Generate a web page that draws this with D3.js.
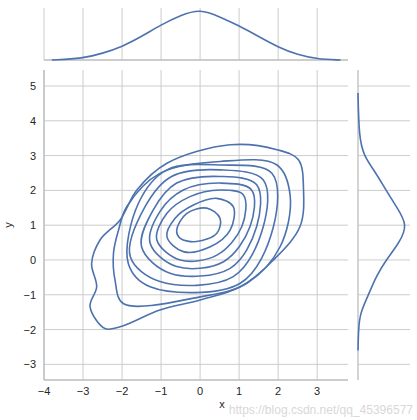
<!DOCTYPE html>
<html><head><meta charset="utf-8">
<script src="https://cdn.jsdelivr.net/npm/d3@7"></script>
<style>body{margin:0;background:#fff}svg{font-family:"Liberation Sans",Arial,sans-serif}</style>
</head><body><svg width="417" height="420"></svg>
<script>
// marginal densities (relative heights)
const xDensX = [-3.8,-3,-2.5,-2,-1.5,-1,-0.5,0,0.5,1,1.5,2,2.5,3,3.6];
const xDensV = [0,0.03,0.13,0.26,0.46,0.69,0.88,1,0.85,0.67,0.46,0.25,0.1,0.02,0];
const yDensY = [4.8,3.55,3,2.5,2,1.53,1,0.48,0,-0.48,-1,-1.53,-2,-2.6];
const yDensV = [0,0.02,0.11,0.36,0.56,0.77,1,0.82,0.56,0.36,0.21,0.04,0.01,0];

// contour rings, [x,y] in data units, outermost first
const outer = [[0.77,3.31],[1.97,3.17],[2.52,2.88],[2.65,2.01],[2.56,0.96],[1.88,0],[1.03,-0.77],[0,-1.15],[-1.03,-1.44],[-2.05,-1.92],[-2.44,-1.97],[-2.82,-1.34],[-2.65,-0.77],[-2.78,-0.1],[-2.56,0.58],[-2.05,1.15],[-1.62,2.01],[-0.85,2.78]];
const ring8 = [[-2.22,0.19],[-2.09,0.86],[-1.88,1.53],[-1.03,2.49],[0.51,2.83],[1.97,2.73],[2.31,1.82],[2.05,0.38],[1.2,-0.67],[0,-1.06],[-1.97,-1.25],[-2.18,-0.58]];
const ring7 = [[-1.84,-0.1],[-1.58,1.63],[-0.85,2.59],[0.51,2.73],[1.84,2.49],[1.88,0.96],[1.03,-0.67],[-1.28,-0.77]];
const ring6 = [[-1.79,0.1],[-1.41,1.53],[-0.73,2.4],[0.51,2.59],[1.62,2.3],[1.62,0.96],[0.85,-0.48],[-1.03,-0.62]];
const ring5 = [[-1.5,0.38],[-1.2,1.44],[-0.6,2.21],[0.51,2.4],[1.45,2.16],[1.45,0.96],[0.77,-0.24],[-0.77,-0.38]];
const ring4 = [[-1.28,0.48],[-1.03,1.39],[-0.43,2.01],[0.51,2.21],[1.32,2.01],[1.28,0.96],[0.6,-0.05],[-0.6,-0.19]];
const ring3 = [[-1.11,0.58],[-0.85,1.34],[-0.26,1.82],[0.51,2.01],[1.11,1.87],[1.07,0.96],[0.43,0.14],[-0.51,0]];
const ring2 = [[-0.85,0.67],[-0.64,1.2],[-0.17,1.58],[0.43,1.77],[0.85,1.53],[0.77,0.86],[0.26,0.38],[-0.43,0.24]];
const ring1 = [[-0.6,0.86],[-0.34,1.34],[0.17,1.49],[0.51,1.2],[0.43,0.77],[-0.09,0.53],[-0.51,0.62]];
const rings = [outer, ring8, ring7, ring6, ring5, ring4, ring3, ring2, ring1];

const xTicks = [-4,-3,-2,-1,0,1,2,3];
const yTicks = [-3,-2,-1,0,1,2,3,4,5];

const blue = "#4c72b0", grid = "#cccccc", txt = "#262626";
const main = {left: 44, right: 348, top: 70, bottom: 380};
const topM = {top: 8, bottom: 60};
const rightM = {left: 358, right: 410};

const x = d3.scaleLinear().domain([-4, 3.79]).range([main.left, main.right]);
const y = d3.scaleLinear().domain([-3.45, 5.46]).range([main.bottom, main.top]);
const hTop = d3.scaleLinear().domain([0, 1]).range([topM.bottom, 9]);
const wRight = d3.scaleLinear().domain([0, 1]).range([rightM.left, 408]);

const svg = d3.select("svg");

// grids
const g = svg.append("g").attr("stroke", grid).attr("stroke-width", 1);
xTicks.forEach(t => {
  g.append("line").attr("x1", x(t)).attr("x2", x(t)).attr("y1", main.top).attr("y2", main.bottom);
  g.append("line").attr("x1", x(t)).attr("x2", x(t)).attr("y1", topM.top).attr("y2", topM.bottom);
});
yTicks.forEach(t => {
  g.append("line").attr("x1", main.left).attr("x2", main.right).attr("y1", y(t)).attr("y2", y(t));
  g.append("line").attr("x1", rightM.left).attr("x2", rightM.right).attr("y1", y(t)).attr("y2", y(t));
});

// spines
const sp = svg.append("g").attr("stroke", "#bdbdbd").attr("stroke-width", 1.3);
sp.append("line").attr("x1", main.left).attr("x2", main.left).attr("y1", main.top).attr("y2", main.bottom);
sp.append("line").attr("x1", main.left).attr("x2", main.right).attr("y1", main.bottom).attr("y2", main.bottom);
sp.append("line").attr("x1", main.left).attr("x2", main.right).attr("y1", topM.bottom).attr("y2", topM.bottom);
sp.append("line").attr("x1", rightM.left).attr("x2", rightM.left).attr("y1", main.top).attr("y2", main.bottom);

// tick labels
svg.append("g").selectAll("text").data(xTicks).join("text")
  .attr("x", d => x(d)).attr("y", main.bottom + 15).attr("text-anchor", "middle")
  .attr("font-size", 11).attr("fill", txt).text(d => d < 0 ? "\u2212" + (-d) : d);
svg.append("g").selectAll("text").data(yTicks).join("text")
  .attr("x", main.left - 8).attr("y", d => y(d) + 4).attr("text-anchor", "end")
  .attr("font-size", 11).attr("fill", txt).text(d => d < 0 ? "\u2212" + (-d) : d);
svg.append("text").attr("x", 222).attr("y", 408)
  .attr("text-anchor", "middle").attr("font-size", 11).attr("fill", txt).text("x");
svg.append("text").attr("transform", "translate(12,225) rotate(-90)")
  .attr("text-anchor", "middle").attr("font-size", 11).attr("fill", txt).text("y");

// contours
const ringLine = d3.line().x(d => x(d[0])).y(d => y(d[1])).curve(d3.curveCatmullRomClosed.alpha(0.5));
svg.append("g").selectAll("path").data(rings).join("path")
  .attr("d", ringLine).attr("fill", "none").attr("stroke", blue).attr("stroke-width", 1.6);

// marginals
const topLine = d3.line().x(d => x(d)).y((d, i) => hTop(xDensV[i])).curve(d3.curveBasis);
svg.append("path").attr("d", topLine(xDensX)).attr("fill", "none").attr("stroke", blue).attr("stroke-width", 1.6);
const rightLine = d3.line().x((d, i) => wRight(yDensV[i])).y(d => y(d)).curve(d3.curveBasis);
svg.append("path").attr("d", rightLine(yDensY)).attr("fill", "none").attr("stroke", blue).attr("stroke-width", 1.6);

// watermark
svg.append("text").attr("x", 413).attr("y", 414).attr("text-anchor", "end")
  .attr("font-size", 12).attr("fill", "#d8d8d8").text("https://blog.csdn.net/qq_45396577");
</script></body></html>
